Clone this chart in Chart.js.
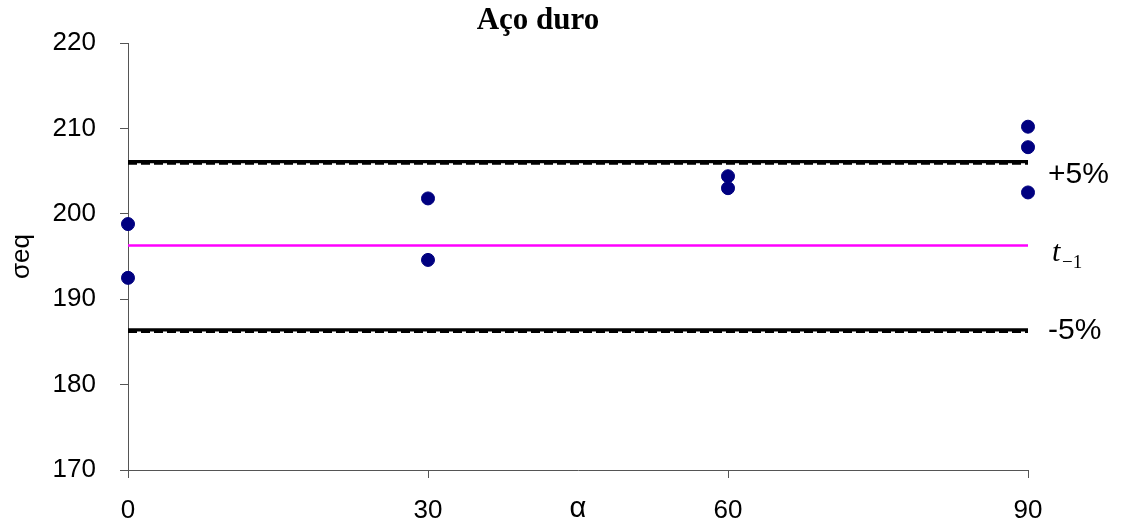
<!DOCTYPE html>
<html>
<head>
<meta charset="utf-8">
<script src="https://cdn.jsdelivr.net/npm/chart.js@4/dist/chart.umd.min.js"></script>
<style>
  html, body { margin: 0; padding: 0; background: #fff; }
  #wrap { width: 1125px; height: 526px; position: relative; }
</style>
</head>
<body>
<div id="wrap"><canvas id="c" width="1125" height="526"></canvas></div>
<script>
// Measured equivalent stress for each loading angle
const angles   = [0, 0, 30, 30, 60, 60, 90, 90, 90];
const sigmaEq  = [198.8, 192.5, 201.8, 194.6, 204.4, 203.0, 210.2, 207.8, 202.5];

// Reference levels: fatigue limit t-1 and the ±5% band (solid + dashed pairs)
const angleRange   = [0, 90];
const fatigueLimit = 196.3;
const upperSolid   = 206.1;
const upperDashed  = 205.87;
const lowerSolid   = 186.4;
const lowerDashed  = 186.17;

// Axis ticks
const xTicks = [0, 30, 60, 90];
const yTicks = [170, 180, 190, 200, 210, 220];

const hline = (v) => angleRange.map(x => ({ x, y: v }));
const points = angles.map((a, i) => ({ x: a, y: sigmaEq[i] }));

const sans = "'Liberation Sans', Arial, sans-serif";
const serif = "'Liberation Serif', 'Times New Roman', serif";

// Title and right-hand level labels
const annotations = {
  id: 'annotations',
  afterDraw(chart) {
    const ctx = chart.ctx;
    const y = chart.scales.y;
    ctx.save();
    ctx.fillStyle = '#000';
    ctx.textBaseline = 'middle';
    ctx.textAlign = 'center';
    ctx.font = 'bold 31px ' + serif;
    ctx.fillText('Aço duro', 538, 21);

    ctx.textAlign = 'left';
    ctx.font = '30px ' + sans;
    ctx.fillText('+5%', 1048, y.getPixelForValue(upperSolid) + 13);
    ctx.fillText('-5%', 1048, y.getPixelForValue(lowerSolid) + 1);

    ctx.textBaseline = 'alphabetic';
    const ty = y.getPixelForValue(fatigueLimit) + 16;
    ctx.font = 'italic 30px ' + serif;
    ctx.fillText('t', 1052, ty);
    ctx.font = '19px ' + serif;
    ctx.fillText('\u22121', 1062, ty + 7);
    ctx.restore();
  }
};

const lineDs = (v, color, width, dash) => ({
  type: 'line',
  data: hline(v),
  borderColor: color,
  borderWidth: width,
  borderDash: dash || [],
  pointRadius: 0,
  fill: false,
  clip: false,
  order: 2
});

new Chart(document.getElementById('c'), {
  type: 'scatter',
  data: {
    datasets: [
      {
        data: points,
        backgroundColor: '#000080',
        borderColor: '#000080',
        pointRadius: 6.5,
        pointHoverRadius: 6.5,
        clip: false,
        order: 1
      },
      lineDs(upperSolid, '#000', 3.3),
      lineDs(upperDashed, '#000', 2.2, [9, 4]),
      lineDs(lowerSolid, '#000', 3.3),
      lineDs(lowerDashed, '#000', 2.2, [9, 4]),
      lineDs(fatigueLimit, '#ff00ff', 2.5)
    ]
  },
  options: {
    responsive: false,
    animation: false,
    layout: { padding: { top: 43, right: 97, bottom: 0, left: 0 } },
    plugins: {
      legend: { display: false },
      title: { display: false },
      tooltip: { enabled: false }
    },
    scales: {
      x: {
        type: 'linear',
        min: 0, max: 90,
        afterBuildTicks: (s) => { s.ticks = xTicks.map(v => ({ value: v })); },
        afterFit: (s) => { s.height = 56; },
        ticks: { color: '#000', font: { family: sans, size: 26 }, padding: 17, maxRotation: 0 },
        grid: { drawOnChartArea: false, drawTicks: true, tickLength: 8, color: '#555', tickColor: '#555' },
        border: { color: '#555', width: 1 },
        title: { display: true, text: 'α', color: '#000', font: { family: sans, size: 29 }, padding: { top: 0, bottom: 0 } }
      },
      y: {
        type: 'linear',
        min: 170, max: 220,
        afterBuildTicks: (s) => { s.ticks = yTicks.map(v => ({ value: v })); },
        afterFit: (s) => { s.width = 128; },
        ticks: { color: '#000', font: { family: sans, size: 26 }, padding: 24 },
        grid: { drawOnChartArea: false, drawTicks: true, tickLength: 8, color: '#555', tickColor: '#555' },
        border: { color: '#555', width: 1 },
        title: { display: true, text: 'σeq', color: '#000', font: { family: sans, size: 26 }, padding: { top: 6, bottom: 0 } }
      }
    }
  },
  plugins: [annotations]
});
</script>
</body>
</html>
